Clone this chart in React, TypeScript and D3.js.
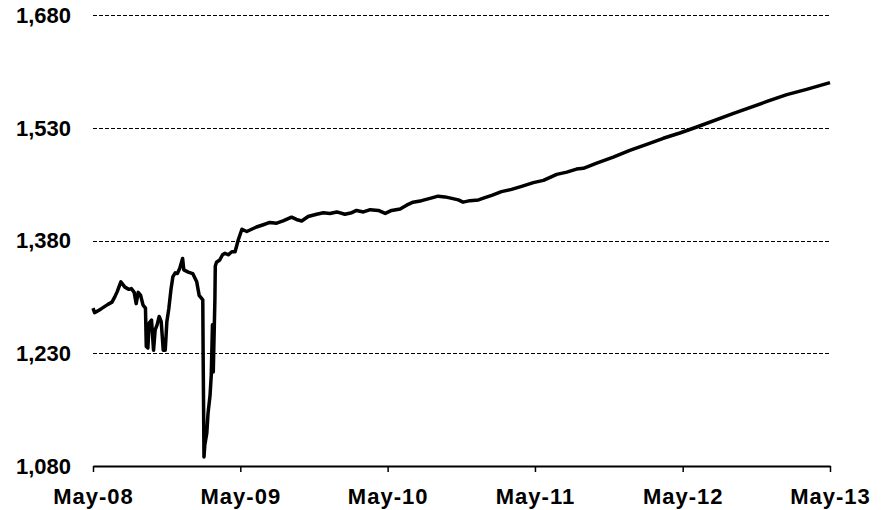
import React, { useEffect, useRef } from "react";
import * as d3 from "d3";

// index level
const dates: string[] = [
  "2008-05-01", "2008-05-05", "2008-05-21", "2008-06-07", "2008-06-17", "2008-06-24",
  "2008-06-30", "2008-07-09", "2008-07-19", "2008-07-29", "2008-08-04", "2008-08-11",
  "2008-08-16", "2008-08-21", "2008-08-27", "2008-09-02", "2008-09-08", "2008-09-10",
  "2008-09-14", "2008-09-17", "2008-09-23", "2008-09-28", "2008-10-02", "2008-10-07",
  "2008-10-12", "2008-10-17", "2008-10-22", "2008-10-27", "2008-10-31", "2008-11-05",
  "2008-11-10", "2008-11-15", "2008-11-21", "2008-11-26", "2008-12-02", "2008-12-09",
  "2008-12-12", "2008-12-23", "2009-01-03", "2009-01-13", "2009-01-19", "2009-01-28",
  "2009-01-29", "2009-01-31", "2009-02-02", "2009-02-07", "2009-02-10", "2009-02-15",
  "2009-02-18", "2009-02-21", "2009-02-23", "2009-02-27", "2009-02-28", "2009-03-03",
  "2009-03-11", "2009-03-18", "2009-03-24", "2009-04-01", "2009-04-10", "2009-04-18",
  "2009-04-26", "2009-05-05", "2009-05-17", "2009-05-29", "2009-06-10", "2009-06-27",
  "2009-07-13", "2009-07-30", "2009-08-15", "2009-09-05", "2009-09-17", "2009-09-30",
  "2009-10-16", "2009-11-06", "2009-11-23", "2009-12-09", "2009-12-26", "2010-01-15",
  "2010-02-01", "2010-02-13", "2010-03-02", "2010-03-19", "2010-04-08", "2010-04-25",
  "2010-05-11", "2010-06-01", "2010-06-17", "2010-07-03", "2010-07-24", "2010-08-14",
  "2010-09-03", "2010-09-20", "2010-10-07", "2010-10-23", "2010-11-04", "2010-11-21",
  "2010-12-12", "2010-12-28", "2011-01-14", "2011-02-07", "2011-03-04", "2011-03-29",
  "2011-04-27", "2011-05-22", "2011-06-24", "2011-07-19", "2011-08-12", "2011-08-29",
  "2011-10-01", "2011-11-11", "2011-12-22", "2012-02-02", "2012-03-14", "2012-04-24",
  "2012-06-05", "2012-09-04", "2012-11-26", "2013-01-14", "2013-03-04", "2013-05-01",
];

const values: number[] = [
  1290, 1284, 1289, 1295, 1298, 1305,
  1312, 1325, 1318, 1315, 1316, 1311,
  1296, 1311, 1307, 1294, 1290, 1239,
  1237, 1270, 1274, 1234, 1261, 1268,
  1279, 1272, 1234, 1234, 1272, 1290,
  1314, 1332, 1337, 1336, 1343, 1356,
  1341, 1338, 1336, 1325, 1307, 1301,
  1221, 1092, 1108, 1124, 1150, 1174,
  1201, 1268, 1205, 1301, 1346, 1351,
  1354, 1361, 1363, 1361, 1365, 1365,
  1381, 1395, 1392, 1395, 1398, 1401,
  1404, 1403, 1406, 1411, 1408, 1406,
  1412, 1415, 1417, 1416, 1418, 1415,
  1417, 1420, 1418, 1421, 1420, 1416,
  1420, 1422, 1427, 1431, 1433, 1436,
  1439, 1438, 1436, 1434, 1431, 1433,
  1434, 1437, 1440, 1445, 1448, 1452,
  1457, 1460, 1468, 1471, 1475, 1476,
  1483, 1491, 1500, 1508, 1516, 1523,
  1531, 1549, 1565, 1574, 1581, 1590,
];

const yTicks: number[] = [1080, 1230, 1380, 1530, 1680];
const xTicks: string[] = ["2008-05-01", "2009-05-01", "2010-05-01", "2011-05-01", "2012-05-01", "2013-05-01"];

const App = () => {
  const chartRef = useRef<SVGSVGElement>(null);

  useEffect(() => {
    const width = 892;
    const height = 510;
    const margin = { top: 15, right: 62, bottom: 44, left: 93 };
    const parse = d3.timeParse("%Y-%m-%d");
    const data = dates.map((d, i) => ({ date: parse(d) as Date, value: values[i] }));

    const svg = d3.select(chartRef.current);
    svg.selectAll("*").remove();

    const x = d3
      .scaleTime()
      .domain([parse(xTicks[0]) as Date, parse(xTicks[xTicks.length - 1]) as Date])
      .range([margin.left, width - margin.right]);
    const y = d3
      .scaleLinear()
      .domain([1080, 1680])
      .range([height - margin.bottom, margin.top]);

    const font = "'Liberation Sans', Arial, Helvetica, sans-serif";

    // dashed gridlines
    svg
      .append("g")
      .selectAll("line")
      .data(yTicks.slice(1))
      .enter()
      .append("line")
      .attr("x1", margin.left)
      .attr("x2", width - margin.right)
      .attr("y1", (d) => Math.round(y(d)) + 0.5)
      .attr("y2", (d) => Math.round(y(d)) + 0.5)
      .attr("stroke", "#000")
      .attr("stroke-width", 1)
      .attr("shape-rendering", "crispEdges")
      .attr("stroke-dasharray", "4,2");

    // y labels
    svg
      .append("g")
      .selectAll("text")
      .data(yTicks)
      .enter()
      .append("text")
      .attr("x", 71)
      .attr("y", (d) => y(d))
      .attr("dy", "0.36em")
      .attr("text-anchor", "end")
      .style("font-family", font)
      .style("font-weight", "bold")
      .style("font-size", "22px")
      .text((d) => d3.format(",")(d));

    // x axis
    const xAxis = svg
      .append("g")
      .attr("transform", `translate(0,${height - margin.bottom})`)
      .call(
        d3
          .axisBottom(x)
          .tickValues(xTicks.map((d) => parse(d) as Date))
          .tickSize(6)
          .tickSizeOuter(0)
          .tickPadding(16)
          .tickFormat((d) => d3.timeFormat("%b-%y")(d as Date))
      );
    xAxis.select(".domain").attr("stroke", "#000").attr("stroke-width", 2);
    xAxis.selectAll(".tick line").attr("stroke", "#000").attr("stroke-width", 1.5);
    xAxis
      .selectAll(".tick text")
      .attr("fill", "#000")
      .style("font-family", font)
      .style("font-weight", "bold")
      .style("font-size", "22px")
      .style("letter-spacing", "1px");

    // series line
    const line = d3
      .line<{ date: Date; value: number }>()
      .x((d) => x(d.date))
      .y((d) => y(d.value));

    svg
      .append("path")
      .datum(data)
      .attr("d", line)
      .attr("fill", "none")
      .attr("stroke", "#000")
      .attr("stroke-width", 3.5)
      .attr("stroke-linejoin", "round");
  }, []);

  return (
    <div style={{ position: "absolute", top: 0, left: 0 }}>
      <svg ref={chartRef} width={892} height={510} style={{ display: "block", background: "#fff" }} />
    </div>
  );
};

export default App;
